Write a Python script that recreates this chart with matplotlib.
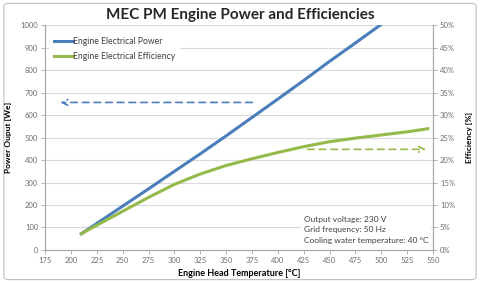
import matplotlib
matplotlib.use("Agg")
import matplotlib.pyplot as plt
from matplotlib.patches import FancyBboxPatch

# data
temp_power = [210, 225, 250, 275, 300, 325, 350, 375, 400, 425, 450, 475, 500]
power = [72, 118, 195, 272, 350, 428, 508, 590, 672, 755, 840, 922, 1005]

temp_eff = [210, 225, 250, 275, 300, 325, 350, 375, 400, 425, 450, 475, 500, 525, 545]
efficiency = [3.6, 5.5, 8.6, 11.7, 14.6, 16.9, 18.8, 20.3, 21.7, 23.0, 24.1, 24.9, 25.6, 26.3, 27.0]

x_ticks = list(range(175, 551, 25))
power_ticks = list(range(0, 1001, 100))
eff_ticks = list(range(0, 51, 5))

notes = ["Output voltage: 230 V", "Grid frequency: 50 Hz", "Cooling water temperature: 40 \u00b0C"]

blue = "#4A7EBB"
green = "#94BA4C"
grey = "#6E6E6E"

plt.rcParams['font.family'] = ['Lato', 'DejaVu Sans']

fig = plt.figure(figsize=(4.8, 2.83), dpi=100)
fig.patches.append(FancyBboxPatch((0.008, 0.012), 0.984, 0.976, boxstyle="round,pad=0,rounding_size=0.01",
                                  transform=fig.transFigure, fc="none", ec="#BFBFBF", lw=0.8, zorder=-1))

ax = fig.add_axes([0.094, 0.117, 0.808, 0.793])
ax.patch.set_alpha(0)
ax2 = ax.twinx()

ax.plot(temp_power, power, color=blue, lw=2.2, label="Engine Electrical Power", zorder=3)
ax2.plot(temp_eff, efficiency, color=green, lw=2.2, zorder=3)
ax.plot([], [], color=green, lw=2.2, label="Engine Electrical Efficiency")

ax.set_xlim(175, 550)
ax.set_ylim(0, 1000)
ax2.set_ylim(0, 50)
ax.set_xticks(x_ticks)
ax.set_yticks(power_ticks)
ax2.set_yticks(eff_ticks)
ax2.set_yticklabels([f"{v}%" for v in eff_ticks])

ax.grid(axis='y', color="#D9D9D9", lw=0.8)
ax.set_axisbelow(True)

for a in (ax, ax2):
    for s in a.spines.values():
        s.set_color("#A6A6A6")
        s.set_linewidth(0.8)
    a.spines['top'].set_visible(False)
    a.tick_params(colors="#A6A6A6", labelcolor=grey, labelsize=5.5, length=3, width=0.6, pad=2)

ax.set_xlabel("Engine Head Temperature [\u00b0C]", fontsize=6.5, fontweight='bold', labelpad=4)
ax.set_ylabel("Power Ouput [We]", fontsize=6, fontweight='bold', labelpad=6)
ax2.set_ylabel("Efficiency [%]", fontsize=6, fontweight='bold', labelpad=8)

fig.suptitle("MEC PM Engine Power and Efficiencies", x=0.5, y=0.97, fontsize=11, fontweight='bold', color="#262626")

leg = ax.legend(loc='upper left', bbox_to_anchor=(0.0, 0.985), frameon=True, fontsize=6.2,
                handlelength=2.2, handletextpad=0.0, borderpad=0.5, labelspacing=0.6)
leg.get_frame().set_edgecolor("white")
leg.get_frame().set_facecolor("white")
leg.get_frame().set_alpha(1)
for t in leg.get_texts():
    t.set_color("#404040")

# dashed arrows pointing at the matching axis
ax.annotate("", xy=(187, 657), xytext=(378, 657),
            arrowprops=dict(arrowstyle="->", color=blue, lw=1.2, linestyle=(0, (4, 3))))
ax2.annotate("", xy=(546, 22.4), xytext=(426, 22.4),
             arrowprops=dict(arrowstyle="->", color=green, lw=1.2, linestyle=(0, (4, 3))))

ax2.text(425, 4.5, "\n".join(notes), fontsize=6, color="#404040", linespacing=1.6, va='center', ha='left',
         bbox=dict(fc="white", ec="none", pad=2))

fig.savefig("out.png", dpi=100)
